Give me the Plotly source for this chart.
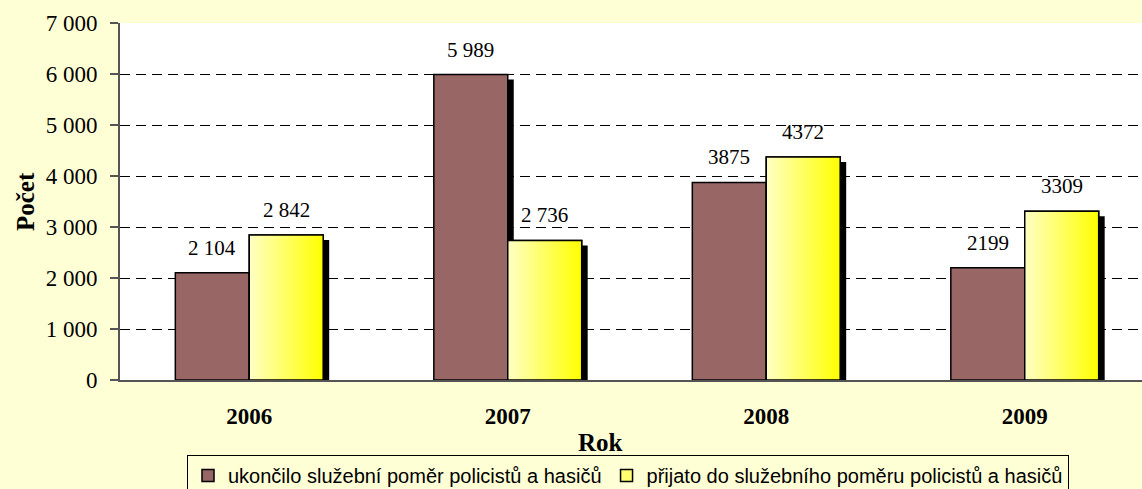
import plotly.graph_objects as go

# Years and counts of police officers and firefighters
years = ["2006", "2007", "2008", "2009"]
ukonceno = [2104, 5989, 3875, 2199]      # left the service
prijato = [2842, 2736, 4372, 3309]       # entered the service
# whether the printed label uses a thousands separator
label_grouped = [True, True, False, False]

series_names = [
    "ukončilo služební poměr policistů a hasičů",
    "přijato do služebního poměru policistů a hasičů",
]

BROWN = "#996666"
YELLOW = "#FFFF70"
PAPER = "#FFFFD6"
SERIF = "Liberation Serif"

W, H = 1142, 489
M_L, M_R, M_T, M_B = 120, 0, 23, 109
plot_w = W - M_L - M_R
plot_h = H - M_T - M_B

# category slot is ~258.5 px wide; the right edge of the plot runs past the page
slot_px = 258.5
x_lo = -0.5
x_hi = x_lo + plot_w / slot_px
y_max = 7000

bar_w = 0.286
shadow_dx = 6 / slot_px
shadow_dy = 5 / plot_h * y_max

xs = list(range(len(years)))


def fmt(v, grouped):
    return f"{v:,}".replace(",", " ") if grouped else str(v)


fig = go.Figure()

# drop shadows behind the bars
for vals, off in ((ukonceno, -bar_w), (prijato, 0.0)):
    fig.add_trace(go.Bar(
        x=xs, y=[v - shadow_dy for v in vals],
        offset=off + shadow_dx, width=bar_w,
        marker=dict(color="black", line=dict(width=0)),
        showlegend=False, hoverinfo="skip",
    ))

fig.add_trace(go.Bar(
    x=xs, y=ukonceno, offset=-bar_w, width=bar_w, name=series_names[0],
    marker=dict(color=BROWN, line=dict(color="black", width=1.5)),
))
fig.add_trace(go.Bar(
    x=xs, y=prijato, offset=0.0, width=bar_w, name=series_names[1],
    marker=dict(color=YELLOW, line=dict(color="black", width=1.5)),
))

# horizontal gradient fill over each yellow bar
for x, v in zip(xs, prijato):
    x0, x1 = x, x + bar_w
    fig.add_trace(go.Scatter(
        x=[x0, x1, x1, x0, x0], y=[0, 0, v, v, 0],
        mode="lines", fill="toself",
        fillgradient=dict(type="horizontal",
                          colorscale=[[0, "#FFFFC4"], [1, "#FFFF00"]]),
        line=dict(color="black", width=1.5),
        showlegend=False, hoverinfo="skip",
    ))

annotations = []
for x, a, b, g in zip(xs, ukonceno, prijato, label_grouped):
    for v, cx in ((a, x - bar_w / 2), (b, x + bar_w / 2)):
        annotations.append(dict(
            x=cx, y=v, xref="x", yref="y", text=fmt(v, g),
            showarrow=False, yanchor="bottom", yshift=11,
            font=dict(family=SERIF, size=21, color="black"),
        ))

annotations.append(dict(
    x=(600 - M_L) / plot_w, y=-(442 - (H - M_B)) / plot_h,
    xref="paper", yref="paper", text="<b>Rok</b>", showarrow=False,
    xanchor="center", yanchor="middle",
    font=dict(family=SERIF, size=25, color="black"),
))
annotations.append(dict(
    x=(25 - M_L) / plot_w, y=((H - M_B) - 202) / plot_h,
    xref="paper", yref="paper", text="<b>Počet</b>", showarrow=False,
    textangle=-90, xanchor="center", yanchor="middle",
    font=dict(family=SERIF, size=25, color="black"),
))

fig.update_layout(
    width=W, height=H,
    margin=dict(l=M_L, r=M_R, t=M_T, b=M_B, pad=0, autoexpand=False),
    paper_bgcolor=PAPER, plot_bgcolor="white",
    barmode="overlay",
    separators=", ",
    showlegend=True,
    legend=dict(
        orientation="h",
        x=(187 - M_L) / plot_w, xanchor="left",
        y=-(455 - (H - M_B)) / plot_h, yanchor="top",
        bgcolor="rgba(0,0,0,0)", bordercolor="black", borderwidth=1,
        font=dict(family="Liberation Sans", size=20, color="black"),
        itemwidth=30, tracegroupgap=0,
    ),
    annotations=annotations,
    xaxis=dict(
        range=[x_lo, x_hi], tickvals=xs,
        ticktext=[f"<b>{y}</b>" for y in years],
        showgrid=False, zeroline=False,
        showline=True, linecolor="#555555", linewidth=2,
        ticks="", ticklabelstandoff=14,
        tickfont=dict(family=SERIF, size=23, color="black"),
        fixedrange=True,
    ),
    yaxis=dict(
        range=[0, y_max], dtick=1000, tickformat=",d",
        showgrid=True, gridcolor="black", gridwidth=1, griddash="10px,6px",
        zeroline=False,
        showline=True, linecolor="#555555", linewidth=2,
        ticks="outside", ticklen=8, tickcolor="#555555", tickwidth=1.5,
        ticklabelstandoff=8,
        tickfont=dict(family=SERIF, size=23, color="black"),
        fixedrange=True,
    ),
)

fig.write_html("out.html")
